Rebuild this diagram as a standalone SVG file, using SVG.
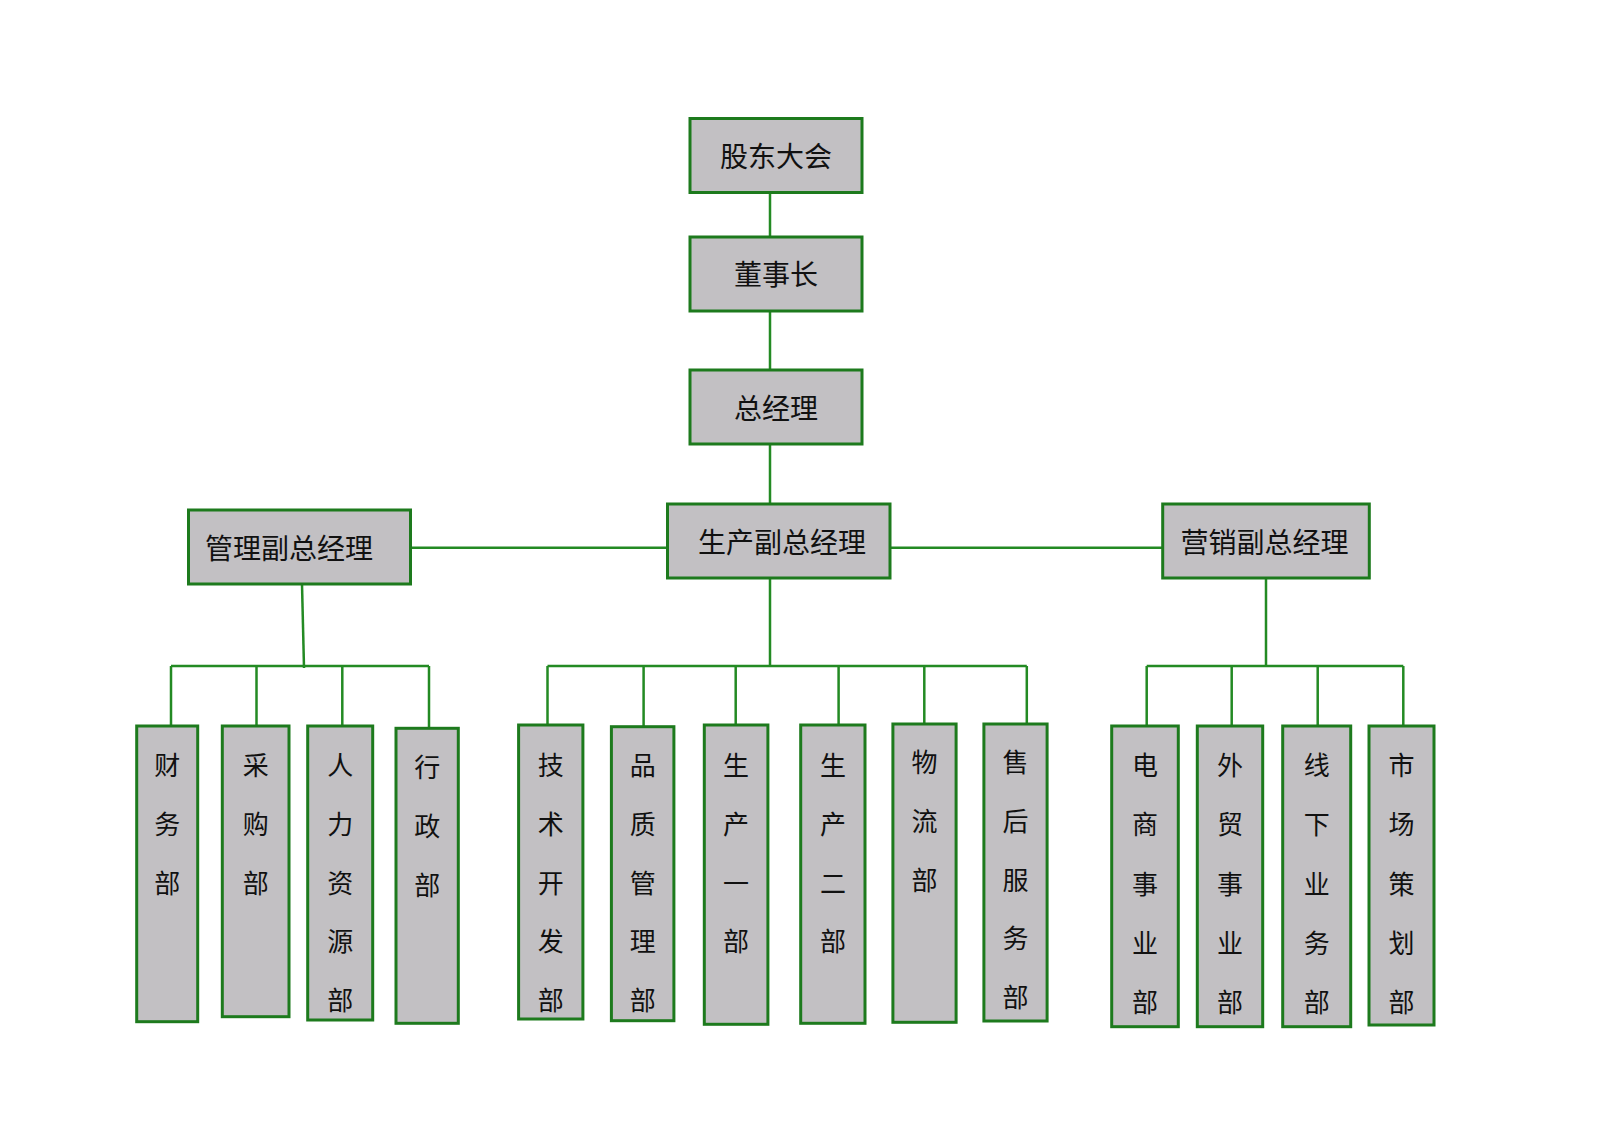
<svg xmlns="http://www.w3.org/2000/svg" width="1600" height="1131" viewBox="0 0 1600 1131">
<style>
.box{fill:#c2c0c3;stroke:#1d7a1d;stroke-width:3}
.ln{stroke:#238a23;stroke-width:2.5;fill:none}
.t{font-family:"Noto Sans CJK SC","Noto Sans CJK JP",sans-serif;font-size:28px;fill:#111;text-anchor:middle}
.v{font-family:"Noto Sans CJK SC","Noto Sans CJK JP",sans-serif;font-size:26px;fill:#111;text-anchor:middle}
</style>
<rect width="1600" height="1131" fill="#fff"/>
<g id="connectors" class="ln">
<path d="M770 192V237M770 311V370M770 444V504M770 578V666"/>
<path d="M410.7 547.7H667M890 547.7H1162.7"/>
<path d="M302 584L304 668"/>
<path d="M1266 578V666"/>
<path d="M171 666H429M547.5 666H1026.8M1146.7 666H1403.3"/>
<path d="M171 666V726M256.5 666V726M342.3 666V726M429 666V728"/>
<path d="M547.5 666V725M643.6 666V726.7M735.7 666V725M838.6 666V725M924.3 666V724M1026.8 666V724"/>
<path d="M1146.7 666V726M1231.7 666V726M1317.7 666V726M1403.3 666V726"/>
</g>
<g id="n-gudong"><rect class="box" x="690" y="118.5" width="172" height="74"/><text class="t" x="776" y="166.5">股东大会</text></g>
<g id="n-dongshizhang"><rect class="box" x="690" y="237" width="172" height="74"/><text class="t" x="776" y="285">董事长</text></g>
<g id="n-zongjingli"><rect class="box" x="690" y="370" width="172" height="74"/><text class="t" x="776" y="418.5">总经理</text></g>
<g id="n-guanli"><rect class="box" x="188.5" y="510" width="222" height="74"/><text class="t" x="289" y="558.5">管理副总经理</text></g>
<g id="n-shengchan"><rect class="box" x="667.5" y="504" width="222.5" height="74"/><text class="t" x="782" y="553">生产副总经理</text></g>
<g id="n-yingxiao"><rect class="box" x="1162.7" y="504" width="206.6" height="74"/><text class="t" x="1264.5" y="553">营销副总经理</text></g>

<g id="n-caiwu"><rect class="box" x="136.7" y="726" width="61" height="295.7"/><text class="v" x="167.2" y="775"><tspan x="167.2">财</tspan><tspan x="167.2" dy="58.8">务</tspan><tspan x="167.2" dy="58.8">部</tspan></text></g>
<g id="n-caigou"><rect class="box" x="222.3" y="726" width="66.7" height="290.7"/><text class="v" x="255.7" y="775"><tspan x="255.7">采</tspan><tspan x="255.7" dy="58.8">购</tspan><tspan x="255.7" dy="58.8">部</tspan></text></g>
<g id="n-renli"><rect class="box" x="307.7" y="726" width="65" height="294"/><text class="v" x="340.2" y="775"><tspan x="340.2">人</tspan><tspan x="340.2" dy="58.8">力</tspan><tspan x="340.2" dy="58.8">资</tspan><tspan x="340.2" dy="58.8">源</tspan><tspan x="340.2" dy="58.8">部</tspan></text></g>
<g id="n-xingzheng"><rect class="box" x="396" y="728.3" width="62.3" height="295"/><text class="v" x="427.2" y="777"><tspan x="427.2">行</tspan><tspan x="427.2" dy="58.8">政</tspan><tspan x="427.2" dy="58.8">部</tspan></text></g>

<g id="n-jishu"><rect class="box" x="518.6" y="725" width="64.3" height="294"/><text class="v" x="550.8" y="775"><tspan x="550.8">技</tspan><tspan x="550.8" dy="58.8">术</tspan><tspan x="550.8" dy="58.8">开</tspan><tspan x="550.8" dy="58.8">发</tspan><tspan x="550.8" dy="58.8">部</tspan></text></g>
<g id="n-pinzhi"><rect class="box" x="611.4" y="726.7" width="62.5" height="294"/><text class="v" x="642.7" y="775"><tspan x="642.7">品</tspan><tspan x="642.7" dy="58.8">质</tspan><tspan x="642.7" dy="58.8">管</tspan><tspan x="642.7" dy="58.8">理</tspan><tspan x="642.7" dy="58.8">部</tspan></text></g>
<g id="n-sc1"><rect class="box" x="704.3" y="725" width="63.6" height="299.3"/><text class="v" x="736.1" y="775"><tspan x="736.1">生</tspan><tspan x="736.1" dy="58.8">产</tspan><tspan x="736.1" dy="58.8">一</tspan><tspan x="736.1" dy="58.8">部</tspan></text></g>
<g id="n-sc2"><rect class="box" x="800.7" y="725" width="64.3" height="298.3"/><text class="v" x="832.9" y="775"><tspan x="832.9">生</tspan><tspan x="832.9" dy="58.8">产</tspan><tspan x="832.9" dy="58.8">二</tspan><tspan x="832.9" dy="58.8">部</tspan></text></g>
<g id="n-wuliu"><rect class="box" x="892.9" y="724" width="63.2" height="298.3"/><text class="v" x="924.5" y="772"><tspan x="924.5">物</tspan><tspan x="924.5" dy="58.8">流</tspan><tspan x="924.5" dy="58.8">部</tspan></text></g>
<g id="n-shouhou"><rect class="box" x="983.9" y="724" width="63.2" height="297"/><text class="v" x="1015.5" y="772"><tspan x="1015.5">售</tspan><tspan x="1015.5" dy="58.8">后</tspan><tspan x="1015.5" dy="58.8">服</tspan><tspan x="1015.5" dy="58.8">务</tspan><tspan x="1015.5" dy="58.8">部</tspan></text></g>

<g id="n-dianshang"><rect class="box" x="1111.7" y="726" width="66.6" height="300.7"/><text class="v" x="1145" y="775"><tspan x="1145">电</tspan><tspan x="1145" dy="59.3">商</tspan><tspan x="1145" dy="59.3">事</tspan><tspan x="1145" dy="59.3">业</tspan><tspan x="1145" dy="59.3">部</tspan></text></g>
<g id="n-waimao"><rect class="box" x="1197.3" y="726" width="65.4" height="300.7"/><text class="v" x="1230" y="775"><tspan x="1230">外</tspan><tspan x="1230" dy="59.3">贸</tspan><tspan x="1230" dy="59.3">事</tspan><tspan x="1230" dy="59.3">业</tspan><tspan x="1230" dy="59.3">部</tspan></text></g>
<g id="n-xianxia"><rect class="box" x="1282.7" y="726" width="68" height="300.7"/><text class="v" x="1316.7" y="775"><tspan x="1316.7">线</tspan><tspan x="1316.7" dy="59.3">下</tspan><tspan x="1316.7" dy="59.3">业</tspan><tspan x="1316.7" dy="59.3">务</tspan><tspan x="1316.7" dy="59.3">部</tspan></text></g>
<g id="n-shichang"><rect class="box" x="1369" y="726" width="65" height="299"/><text class="v" x="1401.5" y="775"><tspan x="1401.5">市</tspan><tspan x="1401.5" dy="59.3">场</tspan><tspan x="1401.5" dy="59.3">策</tspan><tspan x="1401.5" dy="59.3">划</tspan><tspan x="1401.5" dy="59.3">部</tspan></text></g>
</svg>
